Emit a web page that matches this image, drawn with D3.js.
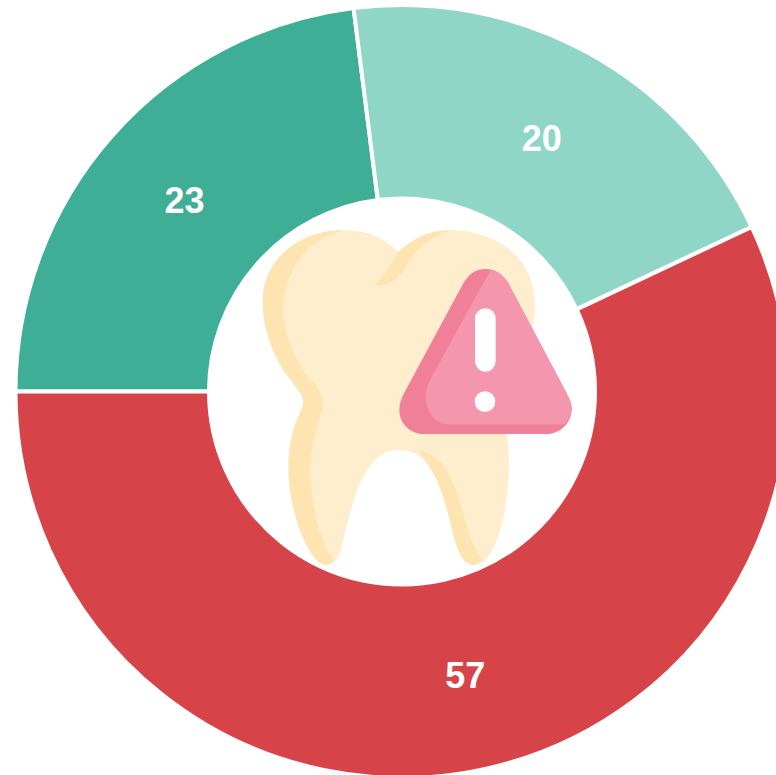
<!DOCTYPE html>
<html>
<head>
<meta charset="utf-8">
<script src="https://cdn.jsdelivr.net/npm/d3@7/dist/d3.min.js"></script>
<style>
html,body{margin:0;padding:0;background:#fff;overflow:hidden}
svg{display:block}
text{font-family:"Liberation Sans",Arial,sans-serif;font-weight:700;font-size:36px;fill:#fff}
</style>
</head>
<body>
<svg id="chart" width="776" height="775"></svg>
<script>
const categories = ["A", "B", "C"];
const values = [23, 20, 57];
const colors = ["#3FAE96", "#8FD6C7", "#D6444A"];

const W = 776, H = 775, cx = 402, cy = 391.5;
const outer = 384.5, inner = 195, border = 4;

const svg = d3.select("#chart");
const g = svg.append("g").attr("transform", `translate(${cx},${cy})`);

const pie = d3.pie().sort(null).value(d => d.value)
  .startAngle(-Math.PI / 2).endAngle(Math.PI * 1.5);
const arcs = pie(categories.map((c, i) => ({ c, value: values[i] })));

const arc = d3.arc().innerRadius(inner - border / 2).outerRadius(outer + border / 2);
const labelArc = d3.arc().innerRadius(195).outerRadius(385);

g.selectAll("path.slice").data(arcs).join("path")
  .attr("class", "slice")
  .attr("d", arc)
  .attr("fill", (d, i) => colors[i])
  .attr("stroke", "#fff")
  .attr("stroke-width", border);

g.selectAll("text").data(arcs).join("text")
  .attr("transform", d => `translate(${labelArc.centroid(d)})`)
  .attr("text-anchor", "middle")
  .attr("dy", "0.38em")
  .text(d => d.value);

// Central tooth + warning icon
const icon = svg.append("g").attr("transform", "translate(250,215) scale(0.33333)");
const tooth = "M445,110 C490,70 540,45 600,45 C740,45 855,130 855,270 C855,340 830,400 800,470 C775,540 760,600 770,660 C780,720 780,790 765,880 C750,970 720,1050 672,1050 C635,1050 620,1000 605,940 C585,850 560,770 510,725 C485,705 460,705 440,705 C390,705 350,750 320,830 C295,900 285,960 272,1005 C262,1040 245,1050 228,1050 C190,1050 150,960 130,880 C110,790 110,700 135,630 C145,600 160,580 160,560 C160,535 130,510 100,465 C60,400 38,330 38,260 C38,130 150,45 285,45 C350,45 405,70 445,110 Z";
icon.append("path").attr("d", tooth).attr("fill", "#FEEECD");
const toothShades = [
  "M285,45 C150,45 38,130 38,260 C38,330 60,400 100,465 C130,510 160,535 160,560 C160,580 145,600 135,630 C110,700 110,790 130,880 C150,960 190,1050 228,1050 C238,1050 245,1045 250,1035 C215,990 190,900 182,800 C175,720 195,650 215,590 C222,560 215,525 190,505 C140,450 100,360 100,280 C100,170 170,70 285,45 Z",
  "M600,45 C540,45 490,70 445,110 C420,150 400,190 373,212 C420,215 450,190 475,145 C500,105 530,70 600,45 Z",
  "M505,705 C560,715 595,760 620,830 C645,910 660,990 697,1030 C690,1042 682,1050 672,1050 C635,1050 620,1000 605,940 C585,850 560,770 505,705 Z"
];
icon.selectAll("path.shade").data(toothShades).join("path")
  .attr("class", "shade").attr("d", d => d).attr("fill", "#FDE4B0");
icon.append("path")
  .attr("d", "M640,205 C660,172 680,162 705,162 C735,162 757,175 775,205 L950,535 C962,558 965,570 965,585 C963,625 930,657 890,657 L520,657 C480,657 448,625 448,585 C448,570 452,555 462,535 Z")
  .attr("fill", "#F07F98");
icon.append("path")
  .attr("d", "M722,165 C745,170 762,182 775,205 L950,535 C962,558 965,570 965,585 C964,600 955,615 943,628 L600,628 C555,628 527,590 527,545 C527,525 535,505 545,485 Z")
  .attr("fill", "#F496AD");
icon.append("rect").attr("x", 675).attr("y", 280).attr("width", 62).attr("height", 190).attr("rx", 31).attr("fill", "#fff");
icon.append("circle").attr("cx", 705).attr("cy", 560).attr("r", 31).attr("fill", "#fff");
</script>
</body>
</html>
